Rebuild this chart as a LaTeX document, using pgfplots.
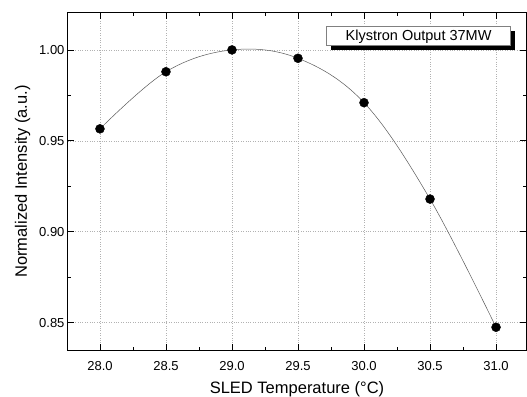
\documentclass[border=0pt]{standalone}
\usepackage{fontspec}
\setmainfont{Liberation Sans}
\usepackage{pgfplots}
\pgfplotsset{compat=1.18}
\usetikzlibrary{shadows}
\begin{document}
\begin{tikzpicture}
\begin{axis}[
  scale only axis,
  width=458pt, height=337pt,
  xmin=27.758, xmax=31.227,
  ymin=0.835, ymax=1.0203,
  xtick={28,28.5,29,29.5,30,30.5,31},
  ytick={0.85,0.90,0.95,1.00},
  minor x tick num=1, minor y tick num=1,
  xticklabel style={yshift=-8pt, /pgf/number format/.cd,fixed,fixed zerofill,precision=1},
  yticklabel style={/pgf/number format/.cd,fixed,fixed zerofill,precision=2},
  /pgf/number format/assume math mode=true,
  tick align=inside,
  major tick length=6pt, minor tick length=3pt,
  tick style={black, line width=0.8pt},
  grid=major,
  major grid style={gray!60, dotted, line width=0.6pt},
  axis line style={black, line width=1pt},
  ticklabel style={font=\fontsize{13}{15}\selectfont},
  label style={font=\fontsize{16.5}{18}\selectfont},
  xlabel={SLED Temperature (°C)},
  ylabel={Normalized Intensity (a.u.)},
  xlabel style={yshift=-4pt},
  ylabel style={yshift=2pt},
  clip=false,
]
\addplot[gray!70!black, line width=0.5pt, smooth, tension=0.6] coordinates {
  (28.0,0.9566) (28.5,0.9880) (29.0,1.0000) (29.5,0.9954) (30.0,0.9710) (30.5,0.9180) (31.0,0.8475)
};
\addplot[only marks, mark=*, mark size=4.5pt, black] coordinates {
  (28.0,0.9566) (28.5,0.9880) (29.0,1.0000) (29.5,0.9954) (30.0,0.9710) (30.5,0.9180) (31.0,0.8475)
};
\node[anchor=north east, draw=gray, line width=0.6pt, fill=white,
      minimum width=184pt, minimum height=19pt, inner sep=1pt,
      font=\fontsize{14.5}{16}\selectfont,
      drop shadow={shadow xshift=4pt, shadow yshift=-4pt, fill=black, opacity=1}]
  at (rel axis cs:0.967,0.96) {Klystron Output 37MW};
\end{axis}
\pgfresetboundingbox
\path (current axis.south west) ++(-68pt,-46pt) coordinate (bbsw);
\path (current axis.north east) ++(1pt,13pt) coordinate (bbne);
\path[use as bounding box] (bbsw) rectangle (bbne);
\end{tikzpicture}
\end{document}
